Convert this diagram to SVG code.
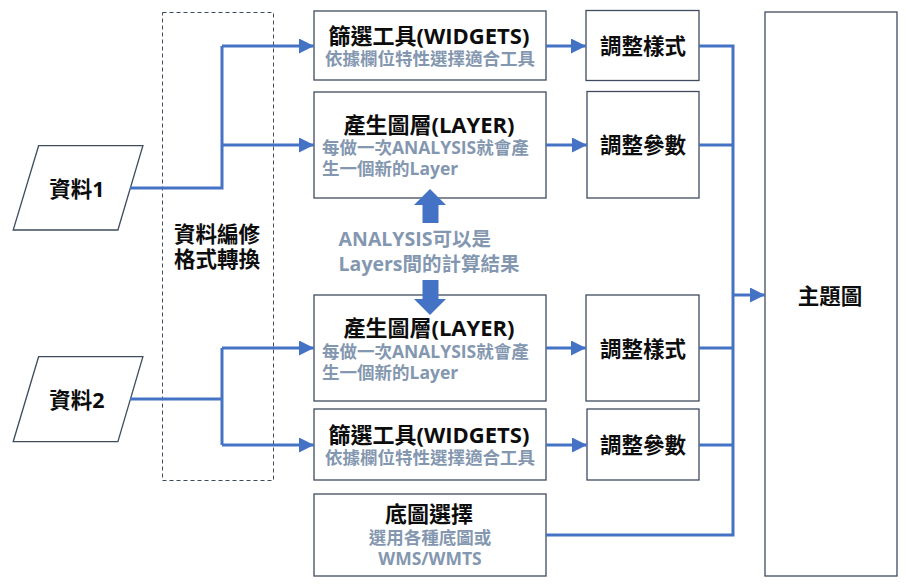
<svg xmlns="http://www.w3.org/2000/svg" width="906" height="585" viewBox="0 0 906 585">
<defs>
<marker id="ah" markerWidth="5" markerHeight="5" refX="5" refY="2.5" orient="auto" markerUnits="strokeWidth">
<path d="M0,0 L5,2.5 L0,5 Z" fill="#4472C4"/>
</marker>
<style>
.box{fill:#fff;stroke:#3E4C5E;stroke-width:1.3}
.t{font-family:"Open Sans","Noto Sans CJK TC",sans-serif;font-weight:bold;font-size:21.5px;fill:#0D0D0D;text-anchor:middle;dominant-baseline:central}
.h{font-size:22px}
.s{font-family:"Open Sans","Noto Sans CJK TC",sans-serif;font-weight:bold;font-size:17.5px;fill:#8497B0;text-anchor:middle;dominant-baseline:central}
.sl{text-anchor:start}
.a{font-family:"Open Sans","Noto Sans CJK TC",sans-serif;font-weight:bold;font-size:19.5px;fill:#8497B0;dominant-baseline:central}
.c{fill:none;stroke:#4472C4;stroke-width:3}
.ca{fill:none;stroke:#4472C4;stroke-width:3;marker-end:url(#ah)}
.blk{fill:#4472C4}
</style>
</defs>
<rect width="906" height="585" fill="#fff"/>
<g id="edit">
<rect x="162.5" y="12.5" width="111" height="468" fill="none" stroke="#3E4C5E" stroke-width="1" stroke-dasharray="4,3"/>
<text class="t" x="217" y="233">資料編修</text>
<text class="t" x="217" y="258">格式轉換</text>
</g>
<g id="data1">
<polygon class="box" points="38.6,145.7 142.9,145.7 117.9,230 13.2,230"/>
<text class="t" x="77" y="188">資料1</text>
</g>
<g id="data2">
<polygon class="box" points="38.6,356.7 142.9,356.7 117.9,441.7 13.2,441.7"/>
<text class="t" x="77" y="399">資料2</text>
</g>
<g id="widgets1">
<rect class="box" x="314" y="11" width="232" height="69"/>
<text class="t h" x="429" y="35">篩選工具(WIDGETS)</text>
<text class="s" x="430" y="58">依據欄位特性選擇適合工具</text>
</g>
<g id="layer1">
<rect class="box" x="314" y="92" width="232" height="106"/>
<text class="t h" x="429" y="124">產生圖層(LAYER)</text>
<text class="s sl" x="322" y="147">每做一次ANALYSIS就會產</text>
<text class="s sl" x="322" y="168">生一個新的Layer</text>
</g>
<g id="layer2">
<rect class="box" x="314" y="295" width="232" height="106"/>
<text class="t h" x="429" y="327">產生圖層(LAYER)</text>
<text class="s sl" x="322" y="351">每做一次ANALYSIS就會產</text>
<text class="s sl" x="322" y="372">生一個新的Layer</text>
</g>
<g id="widgets2">
<rect class="box" x="314" y="409" width="232" height="71"/>
<text class="t h" x="429" y="434">篩選工具(WIDGETS)</text>
<text class="s" x="430" y="457">依據欄位特性選擇適合工具</text>
</g>
<g id="basemap">
<rect class="box" x="314" y="494" width="232" height="82"/>
<text class="t h" x="429" y="513">底圖選擇</text>
<text class="s" x="430" y="537">選用各種底圖或</text>
<text class="s" x="430" y="558">WMS/WMTS</text>
</g>
<g id="style1">
<rect class="box" x="586" y="10.5" width="113" height="70"/>
<text class="t" x="643" y="45.5">調整樣式</text>
</g>
<g id="param1">
<rect class="box" x="587" y="91.5" width="112" height="106.5"/>
<text class="t" x="643" y="144.5">調整參數</text>
</g>
<g id="style2">
<rect class="box" x="586" y="295" width="113" height="106"/>
<text class="t" x="643" y="348">調整樣式</text>
</g>
<g id="param2">
<rect class="box" x="587" y="409" width="112" height="71"/>
<text class="t" x="643" y="444">調整參數</text>
</g>
<g id="thememap">
<rect class="box" x="765" y="12" width="132" height="564"/>
<text class="t" x="830" y="295">主題圖</text>
</g>
<g id="analysis">
<text class="a" x="338.6" y="238">ANALYSIS可以是</text>
<text class="a" x="338.6" y="263">Layers間的計算結果</text>
</g>
<g id="connectors">
<polyline class="c" points="130,188 222,188 222,46"/>
<line class="ca" x1="222" y1="46" x2="314" y2="46"/>
<line class="ca" x1="222" y1="145" x2="314" y2="145"/>
<polyline class="c" points="130,399 222,399"/>
<line class="c" x1="222" y1="348" x2="222" y2="445"/>
<line class="ca" x1="222" y1="348" x2="314" y2="348"/>
<line class="ca" x1="222" y1="445" x2="314" y2="445"/>
<line class="ca" x1="546" y1="46" x2="586" y2="46"/>
<line class="ca" x1="546" y1="145" x2="587" y2="145"/>
<line class="ca" x1="546" y1="348" x2="586" y2="348"/>
<line class="ca" x1="546" y1="445" x2="587" y2="445"/>
<polyline class="c" points="699,46 733,46 733,535 546,535"/>
<line class="c" x1="699" y1="145" x2="733" y2="145"/>
<line class="c" x1="699" y1="348" x2="733" y2="348"/>
<line class="c" x1="699" y1="445" x2="733" y2="445"/>
<line class="ca" x1="733" y1="295" x2="765" y2="295"/>
<polygon class="blk" points="430,189 446,205 438.5,205 438.5,223 422.5,223 422.5,205 414,205"/>
<polygon class="blk" points="422.5,280 438.5,280 438.5,299 446,299 430,315 414,299 422.5,299"/>
</g>
</svg>
